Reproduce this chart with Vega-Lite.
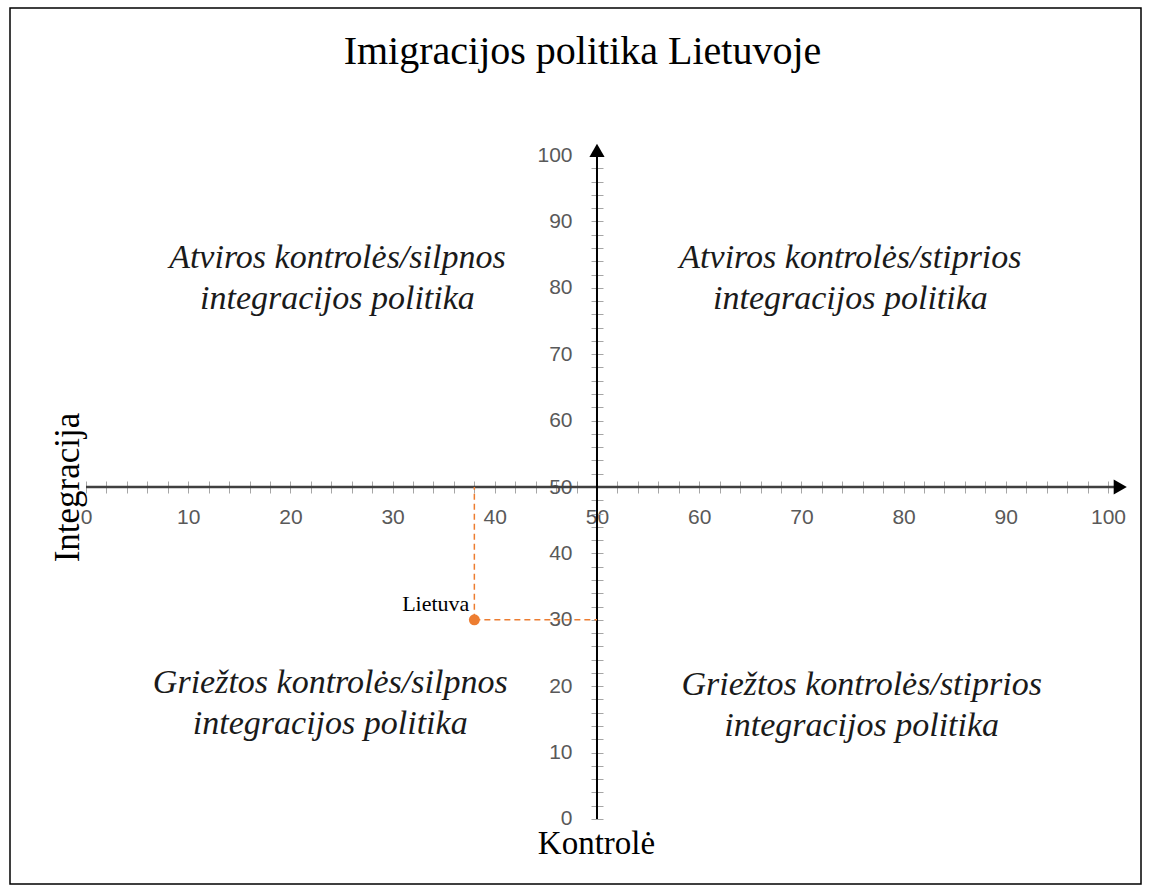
{
  "$schema": "https://vega.github.io/schema/vega-lite/v6.json",
  "width": 1131,
  "height": 876,
  "autosize": "none",
  "padding": {"left": 10, "top": 8, "right": 8, "bottom": 6},
  "background": "white",
  "title": {
    "text": "Imigracijos politika Lietuvoje",
    "font": "Liberation Serif",
    "fontSize": 40,
    "fontWeight": "normal",
    "color": "black",
    "anchor": "middle",
    "baseline": "middle",
    "offset": -84,
    "dx": 7
  },
  "config": {"view": {"stroke": "black", "strokeWidth": 1.5}},
  "datasets": {
    "axisline": [{"axis": "line"}],
    "point": [{"country": "Lietuva", "kontrole": 38, "integracija": 30}],
    "quadrants": [
      {"label": ["Atviros kontrolės/silpnos", "integracijos politika"], "kontrole": 24.6, "integracija": 84.5},
      {"label": ["Atviros kontrolės/stiprios", "integracijos politika"], "kontrole": 74.8, "integracija": 84.5},
      {"label": ["Griežtos kontrolės/silpnos", "integracijos politika"], "kontrole": 23.9, "integracija": 20.5},
      {"label": ["Griežtos kontrolės/stiprios", "integracijos politika"], "kontrole": 75.9, "integracija": 20.2}
    ]
  },
  "layer": [
    {
      "data": {"name": "axisline"},
      "mark": {"type": "rule", "color": "#404040", "strokeWidth": 2.5},
      "encoding": {
        "x": {
          "datum": 0,
          "type": "quantitative",
          "scale": {"domain": [-7.436, 103.23], "nice": false, "zero": false},
          "axis": {
            "orient": "bottom",
            "offset": -403,
            "values": [0,2,4,6,8,10,12,14,16,18,20,22,24,26,28,30,32,34,36,38,40,42,44,46,48,50,52,54,56,58,60,62,64,66,68,70,72,74,76,78,80,82,84,86,88,90,92,94,96,98,100],
            "tickCount": 200,
            "format": "d",
            "labelExpr": "datum.value % 10 === 0 ? datum.label : ''",
            "domain": false,
            "grid": false,
            "tickSize": 12,
            "tickColor": "#a6a6a6",
            "tickWidth": 1,
            "labelPadding": 13,
            "labelFont": "Liberation Sans",
            "labelFontSize": 21,
            "labelColor": "#595959",
            "labelFlush": false,
            "labelOverlap": false,
            "title": "Kontrolė",
            "titleFont": "Liberation Serif",
            "titleFontSize": 33,
            "titleFontWeight": "normal",
            "titleColor": "black",
            "titleX": 586,
            "titleY": 362,
            "titleBaseline": "middle",
            "titleAlign": "center"
          }
        },
        "x2": {"datum": 101},
        "y": {
          "datum": 50,
          "type": "quantitative",
          "scale": {"domain": [-9.79, 122.14], "nice": false, "zero": false},
          "axis": {
            "orient": "left",
            "offset": -593,
            "values": [0,2,4,6,8,10,12,14,16,18,20,22,24,26,28,30,32,34,36,38,40,42,44,46,48,50,52,54,56,58,60,62,64,66,68,70,72,74,76,78,80,82,84,86,88,90,92,94,96,98,100],
            "tickCount": 200,
            "format": "d",
            "labelExpr": "datum.value % 10 === 0 ? datum.label : ''",
            "domain": false,
            "grid": false,
            "tickSize": 12,
            "tickColor": "#a6a6a6",
            "tickWidth": 1,
            "labelPadding": 19,
            "labelFont": "Liberation Sans",
            "labelFontSize": 21,
            "labelColor": "#595959",
            "labelFlush": false,
            "labelOverlap": false,
            "title": "Integracija",
            "titleFont": "Liberation Serif",
            "titleFontSize": 35,
            "titleFontWeight": "normal",
            "titleColor": "black",
            "titleAngle": -90,
            "titleX": -536,
            "titleY": 479,
            "titleBaseline": "middle",
            "titleAlign": "center"
          }
        }
      }
    },
    {
      "data": {"name": "axisline"},
      "mark": {"type": "rule", "color": "black", "strokeWidth": 2},
      "encoding": {
        "x": {"datum": 50, "type": "quantitative"},
        "y": {"datum": 0, "type": "quantitative"},
        "y2": {"datum": 100.5}
      }
    },
    {
      "data": {"name": "axisline"},
      "mark": {"type": "point", "shape": "triangle-right", "filled": true, "color": "black", "size": 230, "opacity": 1},
      "encoding": {
        "x": {"datum": 101.2, "type": "quantitative"},
        "y": {"datum": 50, "type": "quantitative"}
      }
    },
    {
      "data": {"name": "axisline"},
      "mark": {"type": "point", "shape": "triangle-up", "filled": true, "color": "black", "size": 230, "opacity": 1},
      "encoding": {
        "x": {"datum": 50, "type": "quantitative"},
        "y": {"datum": 100.7, "type": "quantitative"}
      }
    },
    {
      "data": {"name": "point"},
      "mark": {"type": "rule", "color": "#ED7D31", "strokeWidth": 1.5, "strokeDash": [6, 4]},
      "encoding": {
        "x": {"field": "kontrole", "type": "quantitative"},
        "y": {"field": "integracija", "type": "quantitative"},
        "y2": {"datum": 50}
      }
    },
    {
      "data": {"name": "point"},
      "mark": {"type": "rule", "color": "#ED7D31", "strokeWidth": 1.5, "strokeDash": [6, 4]},
      "encoding": {
        "x": {"field": "kontrole", "type": "quantitative"},
        "x2": {"datum": 50},
        "y": {"field": "integracija", "type": "quantitative"}
      }
    },
    {
      "data": {"name": "point"},
      "mark": {"type": "point", "shape": "circle", "filled": true, "color": "#ED7D31", "size": 120, "opacity": 1},
      "encoding": {
        "x": {"field": "kontrole", "type": "quantitative"},
        "y": {"field": "integracija", "type": "quantitative"}
      }
    },
    {
      "data": {"name": "point"},
      "mark": {"type": "text", "align": "right", "baseline": "middle", "dx": -5, "dy": -16, "font": "Liberation Serif", "fontSize": 22, "color": "black"},
      "encoding": {
        "x": {"field": "kontrole", "type": "quantitative"},
        "y": {"field": "integracija", "type": "quantitative"},
        "text": {"field": "country"}
      }
    },
    {
      "data": {"name": "quadrants"},
      "mark": {"type": "text", "align": "center", "baseline": "middle", "font": "Liberation Serif", "fontStyle": "italic", "fontSize": 34, "lineHeight": 41, "color": "#1a1a1a"},
      "encoding": {
        "x": {"field": "kontrole", "type": "quantitative"},
        "y": {"field": "integracija", "type": "quantitative"},
        "text": {"field": "label"}
      }
    }
  ]
}
